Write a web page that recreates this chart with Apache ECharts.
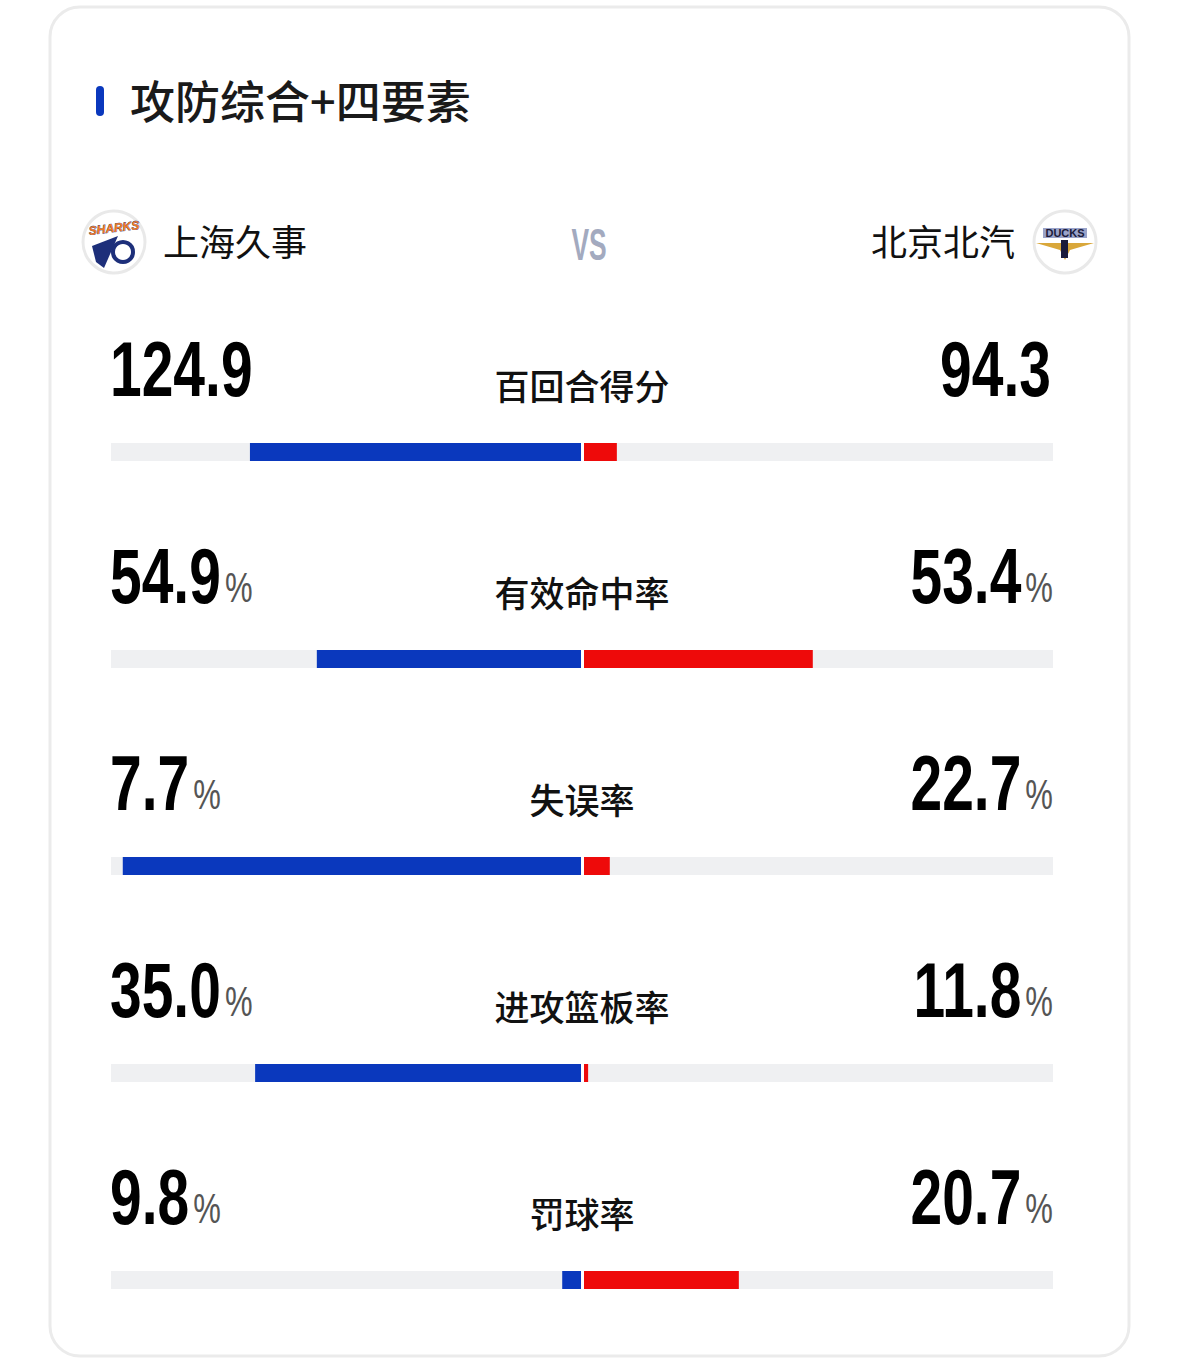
<!DOCTYPE html>
<html>
<head>
<meta charset="utf-8">
<script src="https://cdn.jsdelivr.net/npm/echarts@6/dist/echarts.min.js"></script>
<style>
html,body{margin:0;padding:0;background:#fff;}
#chart{width:1179px;height:1365px;}
</style>
</head>
<body>
<div id="chart"></div>
<script>
// ---- data ----
const chartTitle = '攻防综合+四要素';
const homeTeam = '上海久事';
const awayTeam = '北京北汽';
const metrics = ['百回合得分', '有效命中率', '失误率', '进攻篮板率', '罚球率'];
const homeValues = ['124.9', '54.9', '7.7', '35.0', '9.8'];
const awayValues = ['94.3', '53.4', '22.7', '11.8', '20.7'];
const isPercent = [false, true, true, true, true];
// bar extents (share of half-track)
const homeBar = [70.5, 56.3, 97.5, 69.4, 4.2];
const awayBar = [7.4, 49.0, 5.9, 1.3, 33.3];

// ---- layout ----
const BLUE = '#0a38bd', RED = '#ee0a0a', TRACK = '#eff0f2';
const ROW0 = 443, ROWSTEP = 207;
const NUMFONT = '"Liberation Sans", Arial, sans-serif';
const CJK = '"Noto Sans CJK SC", "Noto Sans", sans-serif';
const NUMSIZE = 77, PCTSIZE = 42, SX = 0.74;

const mc = document.createElement('canvas').getContext('2d');
function measure(txt, size, weight) {
  mc.font = weight + ' ' + size + 'px ' + NUMFONT;
  return mc.measureText(txt).width;
}

const chart = echarts.init(document.getElementById('chart'), null, { renderer: 'svg' });

const grids = [], xAxes = [], yAxes = [], series = [];
metrics.forEach((m, i) => {
  grids.push({ left: 111, right: 126, top: ROW0 + ROWSTEP * i, height: 18 });
  xAxes.push({ gridIndex: i, type: 'value', min: -100, max: 100, show: false });
  yAxes.push({
    gridIndex: i, type: 'category', data: [m], z: 10,
    axisLine: { show: true, onZero: true, lineStyle: { color: '#ffffff', width: 3 } },
    axisTick: { show: false }, axisLabel: { show: false }, splitLine: { show: false }
  });
  series.push({
    type: 'bar', xAxisIndex: i, yAxisIndex: i, data: [-homeBar[i]], barWidth: 18,
    itemStyle: { color: BLUE }, showBackground: true,
    backgroundStyle: { color: TRACK }, silent: true, animation: false
  });
  series.push({
    type: 'bar', xAxisIndex: i, yAxisIndex: i, data: [awayBar[i]], barWidth: 18, barGap: '-100%',
    itemStyle: { color: RED }, silent: true, animation: false
  });
});

const graphics = [];
// card
graphics.push({ type: 'rect', z: -10, shape: { x: 50, y: 7, width: 1079, height: 1349, r: 30 },
  style: { fill: '#ffffff', stroke: '#ebebeb', lineWidth: 3 } });
// title
graphics.push({ type: 'rect', shape: { x: 96, y: 86, width: 8, height: 30, r: 4 }, style: { fill: BLUE } });
graphics.push({ type: 'text', x: 130, y: 99, style: { text: chartTitle, font: '500 45px ' + CJK,
  fill: '#1a1a1a', verticalAlign: 'middle', align: 'left' } });
// team names
graphics.push({ type: 'text', x: 163, y: 240, style: { text: homeTeam, font: '400 36px ' + CJK,
  fill: '#111', verticalAlign: 'middle', align: 'left' } });
graphics.push({ type: 'text', x: 1015, y: 240, style: { text: awayTeam, font: '400 36px ' + CJK,
  fill: '#111', verticalAlign: 'middle', align: 'right' } });
// VS
graphics.push({ type: 'text', x: 589, y: 245, scaleX: 0.6, style: { text: 'VS', font: 'bold 44px ' + NUMFONT,
  fill: '#a3aabf', align: 'center', verticalAlign: 'middle' } });
// logos
graphics.push({ type: 'circle', shape: { cx: 114, cy: 242, r: 31 }, style: { fill: '#fff', stroke: '#e9e9e9', lineWidth: 3 } });
graphics.push({ type: 'circle', shape: { cx: 123, cy: 252, r: 10 }, style: { fill: 'none', stroke: '#1d2f7a', lineWidth: 4 } });
graphics.push({ type: 'polygon', shape: { points: [[92, 246], [118, 236], [104, 268], [96, 262]] }, style: { fill: '#1d2f7a' } });
graphics.push({ type: 'text', x: 114, y: 228, rotation: 0.12, style: { text: 'SHARKS', font: 'italic bold 12px ' + NUMFONT,
  fill: '#f07a22', stroke: '#1d2f7a', lineWidth: 0.6, align: 'center', verticalAlign: 'middle' } });
graphics.push({ type: 'circle', shape: { cx: 1065, cy: 242, r: 31 }, style: { fill: '#fff', stroke: '#e9e9e9', lineWidth: 3 } });
graphics.push({ type: 'polygon', shape: { points: [[1036, 243], [1094, 243], [1070, 250], [1065, 260], [1060, 250]] }, style: { fill: '#d9a73a' } });
graphics.push({ type: 'rect', shape: { x: 1043, y: 228, width: 44, height: 10 }, style: { fill: '#9aa3c9' } });
graphics.push({ type: 'text', x: 1065, y: 233, style: { text: 'DUCKS', font: 'bold 11px ' + NUMFONT,
  fill: '#1b1b3a', align: 'center', verticalAlign: 'middle' } });
graphics.push({ type: 'rect', shape: { x: 1061, y: 240, width: 7, height: 18 }, style: { fill: '#1b1b3a' } });

// rows
metrics.forEach((m, i) => {
  const numMid = 369 + ROWSTEP * i;   // centre of the big digits
  const pctMid = 381 + ROWSTEP * i;   // centre of the % sign
  graphics.push({ type: 'text', x: 582, y: 384 + ROWSTEP * i, style: { text: m, font: '500 35px ' + CJK,
    fill: '#111', align: 'center', verticalAlign: 'middle' } });
  const pctW = isPercent[i] ? measure('%', PCTSIZE, 'normal') * SX : 0;
  // home
  const hW = measure(homeValues[i], NUMSIZE, 'bold') * SX;
  graphics.push({ type: 'text', x: 110, y: numMid, scaleX: SX, style: { text: homeValues[i],
    font: 'bold ' + NUMSIZE + 'px ' + NUMFONT, fill: '#000', align: 'left', verticalAlign: 'middle' } });
  if (isPercent[i]) {
    graphics.push({ type: 'text', x: 110 + hW + 4, y: pctMid, scaleX: SX, style: { text: '%',
      font: 'normal ' + PCTSIZE + 'px ' + NUMFONT, fill: '#555', align: 'left', verticalAlign: 'middle' } });
  }
  // away
  const right = 1053;
  if (isPercent[i]) {
    graphics.push({ type: 'text', x: right, y: pctMid, scaleX: SX, style: { text: '%',
      font: 'normal ' + PCTSIZE + 'px ' + NUMFONT, fill: '#555', align: 'right', verticalAlign: 'middle' } });
  }
  graphics.push({ type: 'text', x: right - (isPercent[i] ? pctW + 4 : 2), y: numMid, scaleX: SX, style: { text: awayValues[i],
    font: 'bold ' + NUMSIZE + 'px ' + NUMFONT, fill: '#000', align: 'right', verticalAlign: 'middle' } });
});

chart.setOption({
  backgroundColor: '#ffffff',
  animation: false,
  grid: grids,
  xAxis: xAxes,
  yAxis: yAxes,
  series: series,
  graphic: { elements: graphics }
});
</script>
</body>
</html>
